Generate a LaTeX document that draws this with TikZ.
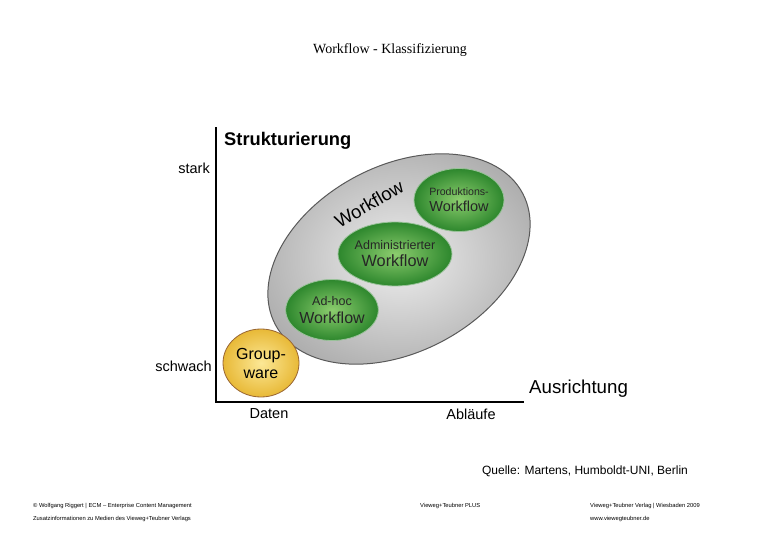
\documentclass[tikz,border=0pt]{standalone}
\usepackage{fontspec}
\setmainfont{Liberation Sans}
\newfontfamily\titlefont{Liberation Serif}
\usetikzlibrary{positioning,shapes.geometric}
\definecolor{wfgray}{RGB}{175,175,175}
\definecolor{wfgrayin}{RGB}{238,238,238}
\definecolor{wfgreen}{RGB}{45,135,45}
\definecolor{wfgreenin}{RGB}{140,205,110}
\definecolor{wfyellow}{RGB}{232,185,55}
\definecolor{wfyellowin}{RGB}{252,232,150}
\tikzset{
  axis/.style={line width=2.6pt, line cap=rect},
  lbl/.style={font=\fontsize{14.5}{16}\selectfont, inner sep=1pt},
  outer/.style={ellipse, draw=black!65, line width=1pt, shading=radial,
    inner color=wfgrayin, outer color=wfgray},
  wfblob/.style={ellipse, draw=black!60!green!40, line width=0.8pt, shading=radial,
    inner color=wfgreenin, outer color=wfgreen, inner sep=0pt, align=center,
    text=black!85},
  gwblob/.style={ellipse, draw=brown!80!black, line width=0.8pt, shading=radial,
    inner color=wfyellowin, outer color=wfyellow, inner sep=0pt, align=center},
  foot/.style={font=\fontsize{5.8}{7}\selectfont, anchor=west, inner sep=0pt}
}
\begin{document}
\begin{tikzpicture}[x=1pt, y=-1pt]
  \useasboundingbox (0,0) rectangle (780,540);

  % --- Title ---
  \node[font=\titlefont\fontsize{14}{16}\selectfont] (title) at (390,50) {Workflow - Klassifizierung};

  % --- Axes ---
  \coordinate (origin) at (216,402);
  \coordinate (ytop) at (216,128);
  \coordinate (xend) at (523,402);
  \draw[axis] (ytop) -- (origin) -- (xend);
  \node[font=\bfseries\fontsize{18.3}{20}\selectfont, anchor=west, inner sep=0pt] (ylab) at (224,141) {Strukturierung};
  \node[font=\fontsize{18.7}{20}\selectfont, anchor=west, inner sep=0pt] (xlab) at (529,389) {Ausrichtung};
  \node[lbl, anchor=east] (stark) at (211,168) {stark};
  \node[lbl, anchor=east] (schwach) at (213,366) {schwach};
  \node[lbl] (daten) at (269,414) {Daten};
  \node[lbl] (ablaeufe) at (471,414) {Abläufe};

  % --- Workflow area ---
  \node[outer, minimum width=280, minimum height=186, rotate=28] (wf) at (399,259) {};
  \node[font=\fontsize{18.5}{20}\selectfont, rotate=30] (wftext) at (369,204) {Workflow};

  % --- Workflow kinds ---
  \node[wfblob, minimum width=90, minimum height=63, font=\fontsize{14.5}{16}\selectfont] (prod) at (459,200)
    {{\fontsize{10.6}{12}\selectfont Produktions-}\\Workflow};
  \node[wfblob, minimum width=94, minimum height=64, font=\fontsize{16.3}{17}\selectfont] (admin) at (395,254)
    {{\fontsize{12.5}{13}\selectfont Administrierter}\\Workflow};
  \node[wfblob, minimum width=88, minimum height=61, font=\fontsize{16}{18}\selectfont] (adhoc) at (332,310)
    {{\fontsize{12.5}{13}\selectfont Ad-hoc}\\Workflow};

  % --- Groupware ---
  \node[gwblob, minimum width=76, minimum height=68, font=\fontsize{16}{19}\selectfont] (gw) at (261,363) {Group-\\ware};

  % --- Source and footer ---
  \node[font=\fontsize{12}{14}\selectfont] (src) at (585,471) {Quelle: Martens, Humboldt-UNI, Berlin};
  \node[foot] (f1) at (33,506) {© Wolfgang Riggert | ECM – Enterprise Content Management};
  \node[foot] (f2) at (33,519) {Zusatzinformationen zu Medien des Vieweg+Teubner Verlags};
  \node[foot] (f3) at (420,506) {Vieweg+Teubner PLUS};
  \node[foot] (f4) at (590,506) {Vieweg+Teubner Verlag | Wiesbaden 2009};
  \node[foot] (f5) at (590,519) {www.viewegteubner.de};
\end{tikzpicture}
\end{document}
